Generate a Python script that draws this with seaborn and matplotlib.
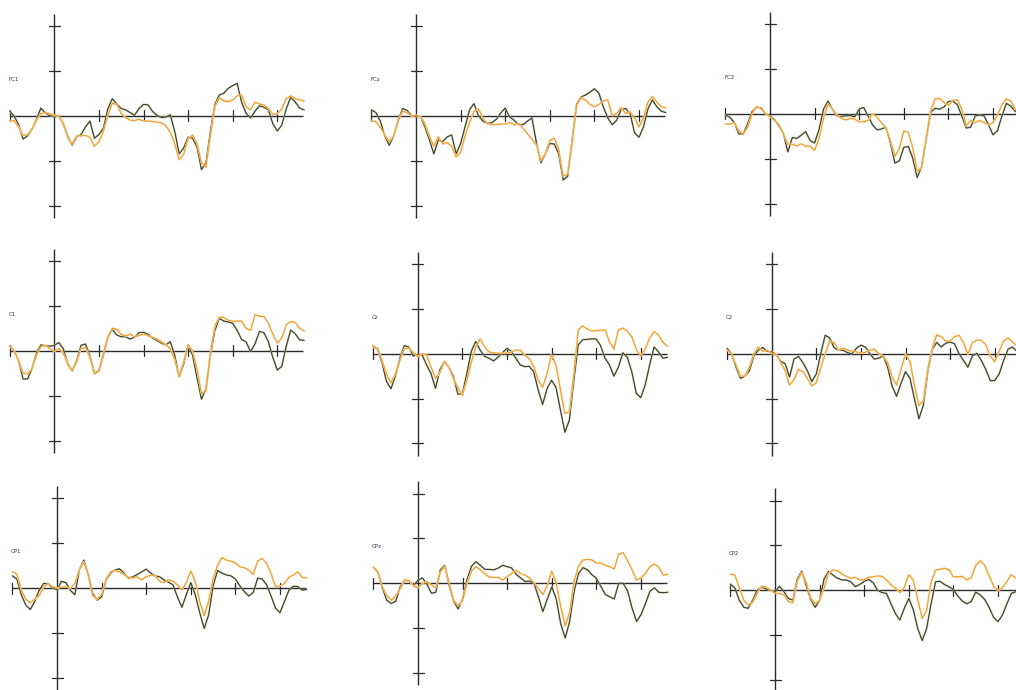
import numpy as np
import pandas as pd
import matplotlib
matplotlib.use("Agg")
import matplotlib.pyplot as plt
import matplotlib.patheffects as pe
import seaborn as sns

sns.set_theme(style="white")
plt.rcParams["font.family"] = ["DejaVu Sans"]

# ---------------- data (amplitude in tick units, sampled every 10 ms) ----------------
times = list(range(-100, 561, 10))
channels = ["FC1", "FCz", "FC2", "C1", "Cz", "C2", "CP1", "CPz", "CP2"]
conditions = ["dark", "orange"]

FC1_dark = [0.10, -0.01, -0.20, -0.52, -0.45, -0.30, -0.08, 0.17, 0.06, 0.00,
            -0.01, 0.00, -0.17, -0.45, -0.66, -0.47, -0.42, -0.25, -0.12, -0.50,
            -0.42, -0.28, 0.15, 0.38, 0.26, 0.16, 0.13, 0.07, 0.01, 0.16,
            0.25, 0.24, 0.10, 0.01, -0.04, -0.03, 0.02, -0.35, -0.85, -0.72,
            -0.48, -0.50, -0.70, -1.20, -1.05, -0.35, 0.25, 0.46, 0.50, 0.61,
            0.67, 0.72, 0.30, 0.05, -0.05, 0.10, 0.22, 0.19, 0.13, -0.18,
            -0.34, -0.21, 0.15, 0.41, 0.31, 0.17, 0.13]
FC1_orange = [-0.11, -0.11, -0.25, -0.44, -0.42, -0.30, -0.10, 0.05, 0.07, 0.04,
              0.01, -0.01, -0.18, -0.48, -0.64, -0.45, -0.45, -0.44, -0.48, -0.68,
              -0.58, -0.35, 0.00, 0.28, 0.25, 0.05, -0.04, -0.10, -0.11, -0.08,
              -0.12, -0.12, -0.13, -0.14, -0.16, -0.22, -0.37, -0.62, -0.98, -0.86,
              -0.52, -0.43, -0.62, -1.05, -1.15, -0.45, 0.20, 0.40, 0.33, 0.31,
              0.35, 0.44, 0.46, 0.20, 0.13, 0.30, 0.26, 0.24, 0.16, 0.03,
              0.04, 0.15, 0.38, 0.44, 0.38, 0.35, 0.33]

FCz_dark = [0.13, 0.07, -0.12, -0.45, -0.66, -0.45, -0.10, 0.16, 0.12, 0.00,
            -0.02, -0.02, -0.25, -0.54, -0.85, -0.54, -0.58, -0.47, -0.43, -0.85,
            -0.62, -0.25, 0.13, 0.27, 0.00, -0.12, -0.17, -0.16, -0.08, 0.06,
            0.17, -0.03, -0.10, -0.20, -0.20, -0.12, -0.05, -0.60, -1.05, -0.85,
            -0.62, -0.63, -0.85, -1.43, -1.35, -0.55, 0.25, 0.42, 0.46, 0.52,
            0.60, 0.50, 0.20, -0.05, -0.20, -0.10, 0.14, 0.16, 0.05, -0.38,
            -0.48, -0.25, 0.15, 0.35, 0.20, 0.10, 0.07]
FCz_orange = [-0.11, -0.13, -0.26, -0.43, -0.58, -0.45, -0.12, 0.10, 0.07, -0.01,
              0.01, -0.02, -0.18, -0.45, -0.68, -0.47, -0.63, -0.60, -0.68, -0.92,
              -0.82, -0.45, -0.15, 0.10, 0.15, -0.05, -0.18, -0.20, -0.20, -0.18,
              -0.19, -0.15, -0.20, -0.17, -0.28, -0.40, -0.53, -0.65, -1.00, -0.85,
              -0.55, -0.50, -0.75, -1.35, -1.30, -0.60, 0.22, 0.41, 0.35, 0.25,
              0.20, 0.25, 0.33, 0.35, 0.00, 0.05, 0.18, 0.05, 0.09, -0.05,
              -0.25, -0.05, 0.30, 0.43, 0.30, 0.20, 0.18]

FC2_dark = [-0.03, -0.08, -0.20, -0.45, -0.45, -0.22, 0.05, 0.14, 0.13, 0.00,
            -0.05, -0.13, -0.27, -0.44, -0.85, -0.53, -0.55, -0.48, -0.40, -0.60,
            -0.65, -0.35, 0.10, 0.28, 0.10, -0.05, -0.06, -0.05, -0.04, -0.07,
            0.10, 0.14, -0.05, -0.25, -0.36, -0.34, -0.30, -0.65, -1.10, -1.05,
            -0.75, -0.73, -0.99, -1.42, -1.18, -0.58, 0.03, 0.12, 0.10, 0.15,
            0.27, 0.28, 0.20, -0.05, -0.32, -0.30, -0.05, -0.03, -0.05, -0.25,
            -0.47, -0.38, -0.05, 0.23, 0.17, 0.05, 0.02]
FC2_orange = [-0.23, -0.23, -0.20, -0.38, -0.45, -0.30, 0.00, 0.16, 0.11, 0.00,
              -0.07, -0.15, -0.24, -0.45, -0.68, -0.68, -0.72, -0.67, -0.73, -0.72,
              -0.82, -0.55, -0.10, 0.22, 0.10, -0.03, -0.10, -0.14, -0.10, -0.12,
              -0.18, -0.18, -0.15, 0.00, -0.08, -0.20, -0.32, -0.60, -0.95, -0.78,
              -0.38, -0.42, -0.75, -1.28, -1.20, -0.55, 0.05, 0.33, 0.34, 0.25,
              0.18, 0.30, 0.31, 0.10, -0.27, -0.15, -0.20, -0.15, -0.20, -0.25,
              -0.20, -0.03, 0.20, 0.33, 0.28, 0.10, 0.05]

C1_dark = [0.10, 0.00, -0.22, -0.63, -0.63, -0.40, -0.05, 0.13, 0.11, 0.10,
           0.12, 0.18, 0.05, -0.30, -0.45, -0.22, 0.12, 0.15, -0.12, -0.50,
           -0.45, -0.10, 0.30, 0.48, 0.35, 0.31, 0.31, 0.26, 0.30, 0.40,
           0.41, 0.37, 0.28, 0.23, 0.17, 0.13, 0.20, -0.10, -0.58, -0.30,
           0.13, -0.10, -0.60, -1.08, -0.85, -0.10, 0.45, 0.72, 0.66, 0.64,
           0.61, 0.45, 0.25, 0.20, -0.02, 0.15, 0.43, 0.40, 0.20, -0.15,
           -0.43, -0.35, 0.10, 0.46, 0.38, 0.24, 0.23]
C1_orange = [0.10, 0.00, -0.22, -0.50, -0.52, -0.40, -0.10, 0.09, 0.12, 0.05,
             -0.02, 0.05, -0.05, -0.28, -0.45, -0.25, 0.05, 0.07, -0.15, -0.52,
             -0.45, -0.06, 0.30, 0.50, 0.48, 0.36, 0.33, 0.37, 0.31, 0.34,
             0.37, 0.33, 0.30, 0.26, 0.20, 0.14, 0.04, -0.20, -0.58, -0.25,
             0.12, 0.00, -0.42, -0.95, -0.90, -0.05, 0.55, 0.75, 0.74, 0.68,
             0.65, 0.66, 0.66, 0.50, 0.45, 0.80, 0.77, 0.76, 0.61, 0.37,
             0.17, 0.28, 0.58, 0.65, 0.63, 0.50, 0.44]

Cz_dark = [0.17, 0.10, -0.20, -0.62, -0.78, -0.50, -0.10, 0.18, 0.15, -0.05,
           -0.02, -0.03, -0.25, -0.45, -0.77, -0.35, -0.18, -0.30, -0.50, -0.90,
           -0.90, -0.45, 0.05, 0.27, 0.08, -0.06, -0.10, -0.16, -0.08, 0.02,
           0.12, 0.05, -0.10, -0.25, -0.29, -0.28, -0.40, -0.80, -1.13, -0.78,
           -0.59, -0.75, -1.25, -1.75, -1.48, -0.60, 0.20, 0.31, 0.32, 0.33,
           0.33, 0.18, -0.10, -0.25, -0.50, -0.30, 0.02, -0.08, -0.40, -0.88,
           -0.98, -0.70, -0.25, 0.15, 0.04, -0.10, -0.08]
Cz_orange = [0.17, 0.12, -0.15, -0.45, -0.65, -0.45, -0.15, 0.11, 0.12, 0.03,
             -0.07, 0.00, -0.02, -0.30, -0.55, -0.42, -0.17, -0.30, -0.55, -0.75,
             -0.93, -0.60, -0.20, 0.15, 0.33, 0.15, 0.04, 0.02, 0.01, 0.01,
             0.01, 0.04, 0.08, 0.08, -0.03, -0.11, -0.28, -0.58, -0.75, -0.45,
             -0.02, -0.25, -0.80, -1.33, -1.30, -0.45, 0.53, 0.62, 0.55, 0.51,
             0.51, 0.52, 0.53, 0.27, 0.10, 0.53, 0.57, 0.50, 0.38, 0.10,
             -0.05, 0.10, 0.35, 0.49, 0.42, 0.25, 0.17]

C2_dark = [0.12, 0.00, -0.30, -0.55, -0.50, -0.38, -0.05, 0.08, 0.14, 0.05,
           0.04, -0.02, -0.17, -0.22, -0.52, -0.12, -0.06, -0.20, -0.38, -0.62,
           -0.45, 0.00, 0.41, 0.35, 0.13, 0.08, 0.08, 0.02, 0.00, 0.12,
           0.19, 0.15, 0.00, -0.12, -0.10, -0.05, -0.30, -0.72, -0.95, -0.66,
           -0.40, -0.55, -1.00, -1.45, -1.15, -0.40, 0.10, 0.25, 0.15, 0.23,
           0.26, 0.22, 0.00, -0.15, -0.30, -0.05, 0.01, -0.15, -0.35, -0.60,
           -0.60, -0.45, -0.15, 0.10, 0.15, 0.05, 0.05]
C2_orange = [0.08, 0.00, -0.25, -0.50, -0.50, -0.30, 0.00, 0.15, 0.05, 0.08,
             0.00, 0.00, -0.20, -0.37, -0.70, -0.58, -0.35, -0.40, -0.55, -0.72,
             -0.65, -0.30, 0.00, 0.28, 0.25, 0.08, 0.12, 0.08, 0.06, 0.04,
             0.01, 0.03, 0.08, 0.10, 0.00, -0.05, -0.20, -0.52, -0.70, -0.35,
             0.00, -0.17, -0.70, -1.15, -1.05, -0.35, 0.12, 0.42, 0.38, 0.28,
             0.28, 0.38, 0.41, 0.25, -0.02, 0.25, 0.30, 0.30, 0.20, -0.05,
             -0.18, 0.05, 0.28, 0.35, 0.26, 0.17, 0.12]

CP1_dark = [0.27, 0.20, -0.15, -0.38, -0.48, -0.30, -0.05, 0.10, 0.10, 0.00,
            -0.04, 0.15, 0.12, -0.05, -0.15, 0.40, 0.62, 0.30, -0.12, -0.27,
            -0.20, 0.18, 0.33, 0.40, 0.43, 0.33, 0.22, 0.25, 0.30, 0.36,
            0.42, 0.33, 0.27, 0.25, 0.18, 0.13, 0.07, -0.20, -0.43, -0.15,
            0.12, -0.15, -0.55, -0.90, -0.60, 0.05, 0.39, 0.33, 0.29, 0.27,
            0.20, 0.05, -0.08, -0.18, -0.10, 0.22, 0.20, 0.07, -0.18, -0.45,
            -0.55, -0.30, -0.05, 0.04, 0.03, -0.05, -0.03]
CP1_orange = [0.36, 0.31, -0.05, -0.25, -0.33, -0.25, -0.17, 0.02, 0.10, 0.03,
              0.00, 0.02, 0.03, -0.01, 0.10, 0.40, 0.58, 0.30, -0.17, -0.25,
              -0.14, 0.20, 0.36, 0.39, 0.36, 0.30, 0.24, 0.22, 0.25, 0.18,
              0.25, 0.28, 0.28, 0.15, 0.12, 0.18, 0.15, 0.07, -0.04, 0.12,
              0.38, 0.15, -0.30, -0.62, -0.30, 0.20, 0.50, 0.68, 0.62, 0.60,
              0.56, 0.47, 0.45, 0.40, 0.30, 0.60, 0.66, 0.55, 0.32, 0.03,
              0.04, 0.10, 0.24, 0.29, 0.36, 0.24, 0.22]

CPz_dark = [0.36, 0.25, -0.10, -0.38, -0.45, -0.40, -0.08, 0.07, 0.05, -0.05,
            0.07, 0.12, -0.02, -0.22, -0.20, 0.30, 0.40, -0.05, -0.40, -0.57,
            -0.35, 0.08, 0.38, 0.48, 0.40, 0.31, 0.31, 0.30, 0.34, 0.40,
            0.37, 0.34, 0.20, 0.12, 0.04, 0.05, 0.00, -0.30, -0.63, -0.35,
            -0.08, -0.35, -0.90, -1.22, -0.85, -0.18, 0.22, 0.35, 0.30, 0.19,
            0.11, -0.07, -0.25, -0.30, -0.35, 0.00, 0.00, -0.17, -0.55, -0.85,
            -0.70, -0.45, -0.18, -0.10, -0.20, -0.21, -0.20]
CPz_orange = [0.36, 0.25, -0.08, -0.27, -0.38, -0.28, -0.13, 0.08, 0.06, -0.06,
              -0.10, 0.00, 0.04, -0.04, -0.10, 0.25, 0.38, 0.00, -0.38, -0.50,
              -0.38, 0.00, 0.28, 0.37, 0.30, 0.21, 0.14, 0.13, 0.13, 0.07,
              0.15, 0.22, 0.29, 0.22, 0.18, 0.12, 0.02, -0.12, -0.25, -0.05,
              0.27, 0.00, -0.52, -0.95, -0.65, 0.05, 0.38, 0.52, 0.53, 0.52,
              0.45, 0.45, 0.40, 0.37, 0.32, 0.65, 0.68, 0.50, 0.30, 0.07,
              0.12, 0.22, 0.37, 0.43, 0.36, 0.18, 0.20]

CP2_dark = [0.14, 0.05, -0.22, -0.38, -0.40, -0.22, 0.00, 0.07, 0.03, 0.00,
            -0.03, 0.09, -0.03, -0.18, -0.22, 0.25, 0.43, 0.10, -0.20, -0.38,
            -0.22, 0.25, 0.42, 0.34, 0.27, 0.23, 0.23, 0.19, 0.08, 0.13,
            0.20, 0.24, 0.17, 0.00, -0.05, -0.07, -0.30, -0.52, -0.66, -0.40,
            -0.18, -0.43, -0.85, -1.12, -0.85, -0.30, 0.19, 0.20, 0.13, 0.08,
            0.02, -0.13, -0.24, -0.30, -0.25, -0.04, -0.10, -0.20, -0.38, -0.60,
            -0.70, -0.55, -0.30, -0.07, -0.03, -0.02, 0.00]
CP2_orange = [0.36, 0.34, 0.05, -0.22, -0.33, -0.27, -0.07, 0.09, 0.07, 0.01,
              -0.07, -0.07, -0.10, -0.25, -0.28, 0.20, 0.40, 0.17, -0.17, -0.30,
              -0.22, 0.05, 0.38, 0.45, 0.44, 0.36, 0.31, 0.27, 0.29, 0.23,
              0.24, 0.29, 0.30, 0.32, 0.31, 0.23, 0.12, 0.05, -0.05, 0.06,
              0.35, 0.23, -0.20, -0.63, -0.44, 0.18, 0.45, 0.47, 0.49, 0.46,
              0.30, 0.30, 0.31, 0.23, 0.28, 0.55, 0.66, 0.56, 0.33, 0.10,
              -0.01, 0.06, 0.20, 0.35, 0.27, 0.30, 0.30]

series = {
    "FC1": (FC1_dark, FC1_orange), "FCz": (FCz_dark, FCz_orange), "FC2": (FC2_dark, FC2_orange),
    "C1": (C1_dark, C1_orange), "Cz": (Cz_dark, Cz_orange), "C2": (C2_dark, C2_orange),
    "CP1": (CP1_dark, CP1_orange), "CPz": (CPz_dark, CPz_orange), "CP2": (CP2_dark, CP2_orange),
}

x_ticks = [-100, 100, 200, 300, 400, 500]
y_ticks = [-2, -1, 1, 2]

# ---------------- layout (pixel position of each panel's origin) ----------------
W, H = 1016, 690
origins = {
    "FC1": (54.3, 115.7), "FCz": (416.0, 115.7), "FC2": (770.0, 113.7),
    "C1": (54.3, 350.7), "Cz": (417.7, 353.7), "C2": (771.7, 353.7),
    "CP1": (57.0, 588.0), "CPz": (418.0, 583.3), "CP2": (775.0, 590.3),
}
SX = 0.446   # px per ms
SY = 44.9    # px per unit
XL, XR = -125, 585
YB, YT = -2.45, 2.45

AX_COLOR = "#2a2a2a"
palette = {"dark": "#2f3318", "orange": "#f09a1c"}
halo = {"dark": "#b4b79f", "orange": "#f9d29e"}

fig = plt.figure(figsize=(W / 100, H / 100), dpi=100)
fig.patch.set_facecolor("white")

tkx = 5.5 / SX     # tick half-length in ms
tky = 5.5 / SY     # tick half-length in units

for ch in channels:
    x0, y0 = origins[ch]
    left = x0 + XL * SX
    right = x0 + XR * SX
    top = y0 - YT * SY
    bottom = y0 - YB * SY
    ax = fig.add_axes([left / W, 1 - bottom / H, (right - left) / W, (bottom - top) / H])
    ax.set_xlim(XL, XR)
    ax.set_ylim(YB, YT)
    ax.axis("off")

    ax.plot([-100, 558], [0, 0], color=AX_COLOR, lw=1.0, zorder=1, solid_capstyle="butt")
    ax.plot([0, 0], [-2.27, 2.27], color=AX_COLOR, lw=1.0, zorder=1, solid_capstyle="butt")
    for t in x_ticks:
        ax.plot([t, t], [-tky, tky], color=AX_COLOR, lw=0.9, zorder=1)
    for v in y_ticks:
        ax.plot([-tkx, tkx], [v, v], color=AX_COLOR, lw=0.9, zorder=1)

    d, o = series[ch]
    df = pd.DataFrame({
        "time": times * 2,
        "amp": list(d) + list(o),
        "cond": ["dark"] * len(times) + ["orange"] * len(times),
    })
    n_before = len(ax.lines)
    sns.lineplot(data=df, x="time", y="amp", hue="cond", hue_order=conditions,
                 palette=palette, ax=ax, legend=False, estimator=None, lw=0.65)
    for line, cond in zip(ax.lines[n_before:], conditions):
        line.set_zorder(3 if cond == "dark" else 4)
        line.set_solid_joinstyle("round")
        line.set_path_effects([pe.Stroke(linewidth=1.35, foreground=halo[cond]), pe.Normal()])

    ax.text(-103, 0.81, ch, fontsize=4, color="#2b3a55", ha="left", va="center")

fig.savefig("out.png", dpi=100, facecolor="white")
